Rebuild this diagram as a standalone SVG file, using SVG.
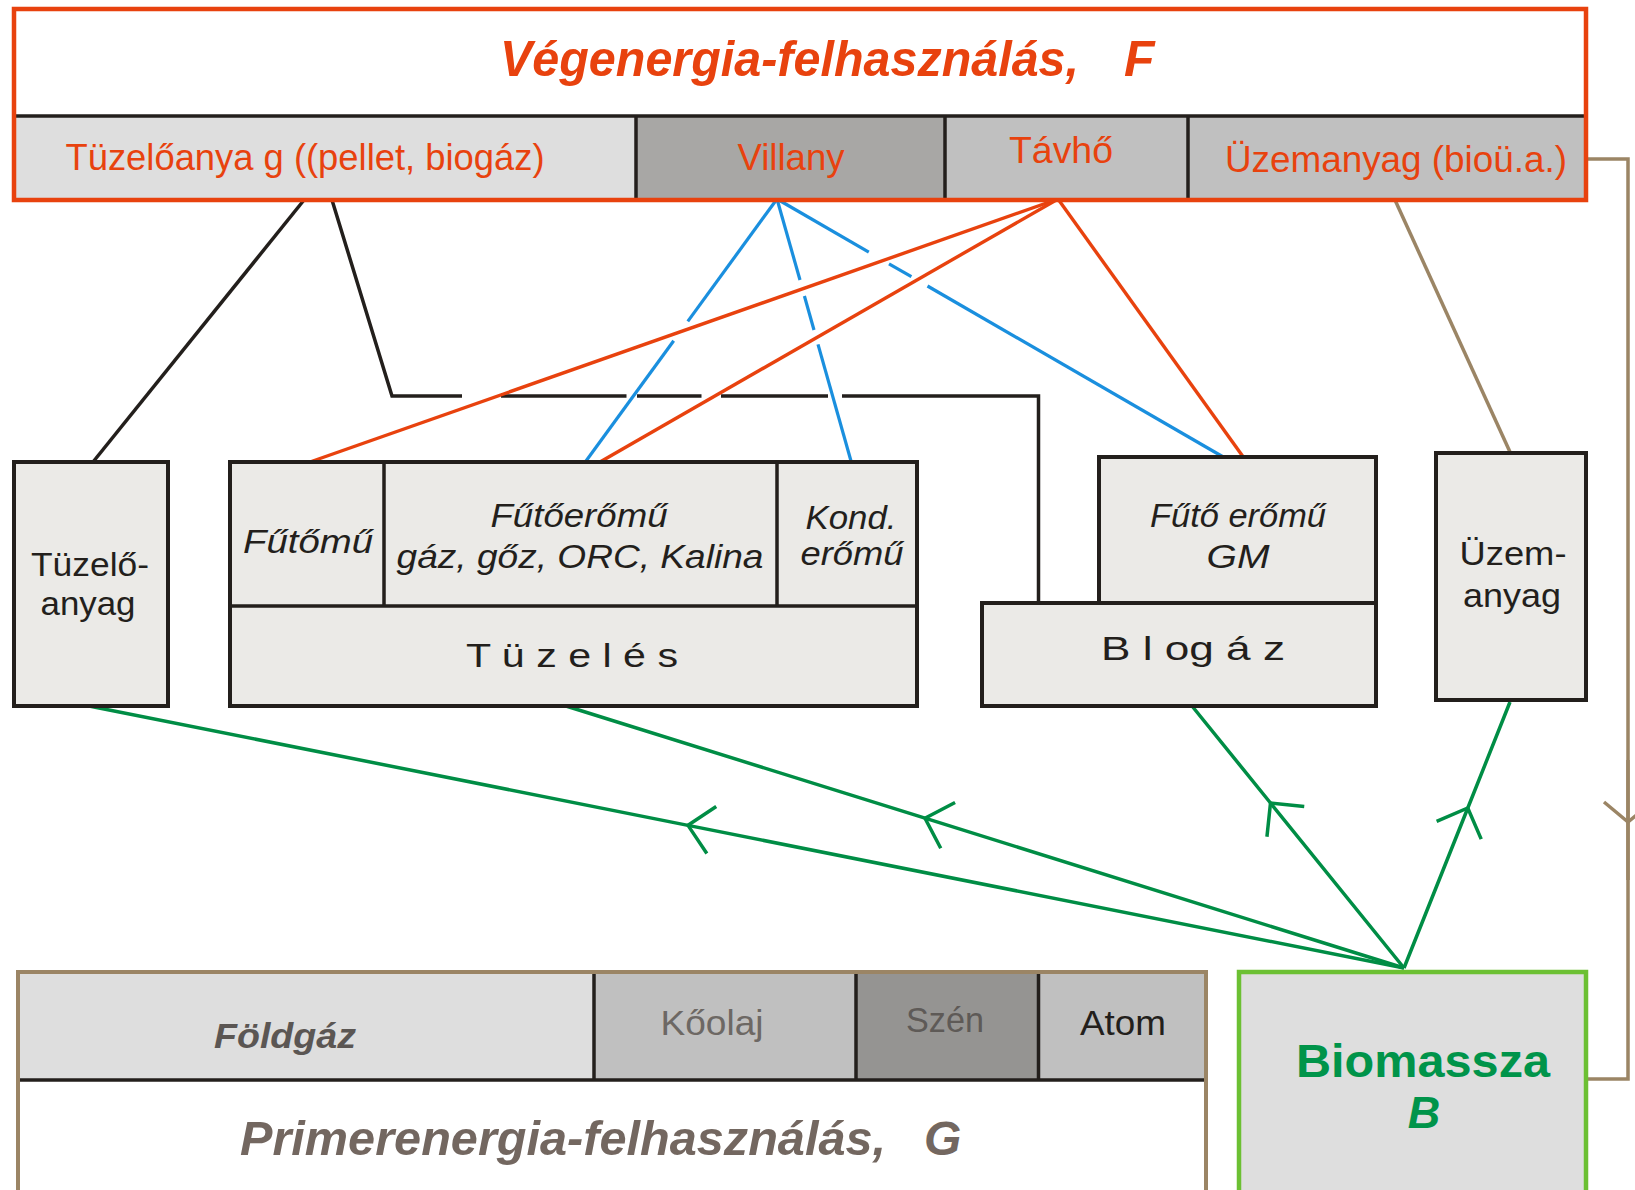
<svg xmlns="http://www.w3.org/2000/svg" width="1635" height="1190" viewBox="0 0 1635 1190">
<style>
  text { font-family: "Liberation Sans", Arial, sans-serif; }
  .box { fill: #EBEAE7; stroke: #231F1C; stroke-width: 4; }
  .dv { stroke: #231F1C; stroke-width: 3.5; fill: none; }
  .nl { font-size: 33px; fill: #231F1C; text-anchor: middle; }
  .it { font-style: italic; }
  .cl { font-size: 37px; fill: #E8420E; text-anchor: middle; }
  .blk { stroke: #231F1C; stroke-width: 3.5; fill: none; }
  .red { stroke: #E8420E; stroke-width: 3.4; fill: none; }
  .blu { stroke: #1A8FDE; stroke-width: 3.2; fill: none; }
  .grn { stroke: #008D45; stroke-width: 3.5; fill: none; marker-mid: url(#ag); }
  .brn { stroke: #9B8565; stroke-width: 3.5; fill: none; }
  .pl { font-size: 35px; text-anchor: middle; }
</style>
<defs>
  <marker id="ag" markerUnits="userSpaceOnUse" orient="auto" viewBox="-30 -30 60 60" markerWidth="60" markerHeight="60" refX="0" refY="0">
    <path d="M-24 -24 L0 0 L-24 24" fill="none" stroke="#008D45" stroke-width="3.5"/>
  </marker>
  <marker id="ab" markerUnits="userSpaceOnUse" orient="auto" viewBox="-30 -30 60 60" markerWidth="60" markerHeight="60" refX="0" refY="0">
    <path d="M-20 -24 L0 0 L-20 24" fill="none" stroke="#9B8565" stroke-width="3.5"/>
  </marker>
</defs>
<rect width="1635" height="1190" fill="#fff"/>

<g id="connectors">
  <path class="blk" d="M304 200 L93 462"/>
  <path class="blk" d="M332 200 L392 396 L462 396"/>
  <path class="blk" d="M501 396 H626.5"/>
  <path class="blk" d="M637 396 H701.5"/>
  <path class="blk" d="M721 396 H828"/>
  <path class="blk" d="M842 396 H1038.5 V603"/>
  <path class="blu" d="M777 199 L687.8 321.4"/>
  <path class="blu" d="M673.7 340.7 L586 461"/>
  <path class="blu" d="M777 199 L800 280"/>
  <path class="blu" d="M804.4 296 L814 330"/>
  <path class="blu" d="M818 344.4 L851 461"/>
  <path class="blu" d="M777 199 L868.8 252.1"/>
  <path class="blu" d="M889 263.8 L911.4 276.7"/>
  <path class="blu" d="M927.5 286 L1225 458"/>
  <path class="red" d="M1058 199 L310 462"/>
  <path class="red" d="M1058 199 L600 462"/>
  <path class="red" d="M1058 199 L1244 458"/>
  <path class="brn" d="M1395 200 L1510 452"/>
  <path class="brn" d="M1588 159 H1628 V1079 H1588"/>
  <path class="brn" d="M1628 760 L1628 822 L1628 880" style="marker-mid:url(#ab)"/>
  <path class="grn" d="M1404 968 L688 825.35 L89 706"/>
  <path class="grn" d="M1404 968 L925 818.2 L566 706"/>
  <path class="grn" d="M1404 968 L1270.5 803 L1192 706"/>
  <path class="grn" d="M1404 968 L1467.8 808 L1510 702"/>
</g>

<g id="vegenergia">
  <rect x="14" y="9" width="1572" height="191" fill="#fff"/>
  <rect x="14" y="116" width="622" height="84" fill="#DEDEDE"/>
  <rect x="636" y="116" width="309" height="84" fill="#A8A7A5"/>
  <rect x="945" y="116" width="243" height="84" fill="#C0C0C0"/>
  <rect x="1188" y="116" width="398" height="84" fill="#C0C0C0"/>
  <path class="dv" d="M14 116 H1586" stroke-width="4"/>
  <path class="dv" d="M636 116 V198 M945 116 V198 M1188 116 V198"/>
  <rect x="14" y="9" width="1572" height="191" fill="none" stroke="#E8420E" stroke-width="4.5"/>
  <text x="500" y="76" font-size="50" font-weight="bold" font-style="italic" fill="#E8420E" textLength="579" lengthAdjust="spacingAndGlyphs">Végenergia-felhasználás,</text>
  <text x="1124" y="76" font-size="50" font-weight="bold" font-style="italic" fill="#E8420E">F</text>
  <text class="cl" x="305" y="170" textLength="479" lengthAdjust="spacingAndGlyphs">Tüzelőanya g ((pellet, biogáz)</text>
  <text class="cl" x="791" y="170" textLength="107" lengthAdjust="spacingAndGlyphs">Villany</text>
  <text class="cl" x="1061" y="163" textLength="104" lengthAdjust="spacingAndGlyphs">Távhő</text>
  <text class="cl" x="1396" y="172" textLength="342" lengthAdjust="spacingAndGlyphs">Üzemanyag (bioü.a.)</text>
</g>

<g id="tuzeloanyag">
  <rect class="box" x="14" y="462" width="154" height="244"/>
  <text class="nl" x="90" y="576" textLength="118" lengthAdjust="spacingAndGlyphs">Tüzelő-</text>
  <text class="nl" x="88" y="615" textLength="95" lengthAdjust="spacingAndGlyphs">anyag</text>
</g>

<g id="tuzeles">
  <rect class="box" x="230" y="462" width="687" height="244"/>
  <path class="dv" d="M230 606 H917 M384 462 V606 M777 462 V606"/>
  <text class="nl it" x="308" y="553" font-size="31" textLength="130" lengthAdjust="spacingAndGlyphs">Fűtőmű</text>
  <text class="nl it" x="579" y="527" font-size="31" textLength="177" lengthAdjust="spacingAndGlyphs">Fűtőerőmű</text>
  <text class="nl it" x="580" y="568" font-size="31" textLength="367" lengthAdjust="spacingAndGlyphs">gáz, gőz, ORC, Kalina</text>
  <text class="nl it" x="851" y="529" font-size="31" textLength="91" lengthAdjust="spacingAndGlyphs">Kond.</text>
  <text class="nl it" x="852" y="565" font-size="31" textLength="103" lengthAdjust="spacingAndGlyphs">erőmű</text>
  <text class="nl" x="572" y="667" font-size="37" textLength="212" lengthAdjust="spacingAndGlyphs">T ü z e l é s</text>
</g>

<g id="biogaz">
  <rect class="box" x="1099" y="457" width="277" height="146"/>
  <rect class="box" x="982" y="603" width="394" height="103"/>
  <text class="nl it" x="1238" y="527" font-size="32" textLength="176" lengthAdjust="spacingAndGlyphs">Fűtő erőmű</text>
  <text class="nl it" x="1238" y="568" font-size="32" textLength="63" lengthAdjust="spacingAndGlyphs">GM</text>
  <text class="nl" x="1193" y="660" font-size="36" textLength="184" lengthAdjust="spacingAndGlyphs">B l og á z</text>
</g>

<g id="uzemanyag">
  <rect class="box" x="1436" y="453" width="150" height="247"/>
  <text class="nl" x="1513" y="565" textLength="107" lengthAdjust="spacingAndGlyphs">Üzem-</text>
  <text class="nl" x="1512" y="607" textLength="98" lengthAdjust="spacingAndGlyphs">anyag</text>
</g>

<g id="primerenergia">
  <rect x="18" y="972" width="1188" height="230" fill="#fff"/>
  <rect x="18" y="974" width="576" height="105" fill="#DEDEDE"/>
  <rect x="594" y="974" width="262" height="105" fill="#C0C0C0"/>
  <rect x="856" y="974" width="182.5" height="105" fill="#959492"/>
  <rect x="1038.5" y="974" width="167.5" height="105" fill="#C0C0C0"/>
  <path class="dv" d="M594 974 V1079 M856 974 V1079 M1038.5 974 V1079" stroke-width="2.5"/>
  <path class="dv" d="M18 1080 H1206" stroke-width="4.5"/>
  <rect x="18" y="972" width="1188" height="230" fill="none" stroke="#9B8565" stroke-width="4"/>
  <text class="pl" x="285" y="1048" font-size="34" font-weight="bold" font-style="italic" fill="#5B5653" textLength="142" lengthAdjust="spacingAndGlyphs">Földgáz</text>
  <text class="pl" x="712" y="1035" fill="#6D6864" textLength="103" lengthAdjust="spacingAndGlyphs">Kőolaj</text>
  <text class="pl" x="945" y="1032" fill="#5E5A57" textLength="78" lengthAdjust="spacingAndGlyphs">Szén</text>
  <text class="pl" x="1123" y="1035" fill="#231F1C" textLength="86" lengthAdjust="spacingAndGlyphs">Atom</text>
  <text x="240" y="1155" font-size="48" font-weight="bold" font-style="italic" fill="#736760" textLength="646" lengthAdjust="spacingAndGlyphs">Primerenergia-felhasználás,</text>
  <text x="924" y="1155" font-size="48" font-weight="bold" font-style="italic" fill="#736760">G</text>
</g>

<g id="biomassza">
  <rect x="1239" y="972" width="347" height="230" fill="#DEDEDE" stroke="#6CC033" stroke-width="4.5"/>
  <text x="1423" y="1077" font-size="47" font-weight="bold" fill="#00944A" text-anchor="middle" textLength="254" lengthAdjust="spacingAndGlyphs">Biomassza</text>
  <text x="1424" y="1128" font-size="45" font-weight="bold" font-style="italic" fill="#00944A" text-anchor="middle">B</text>
</g>
</svg>
